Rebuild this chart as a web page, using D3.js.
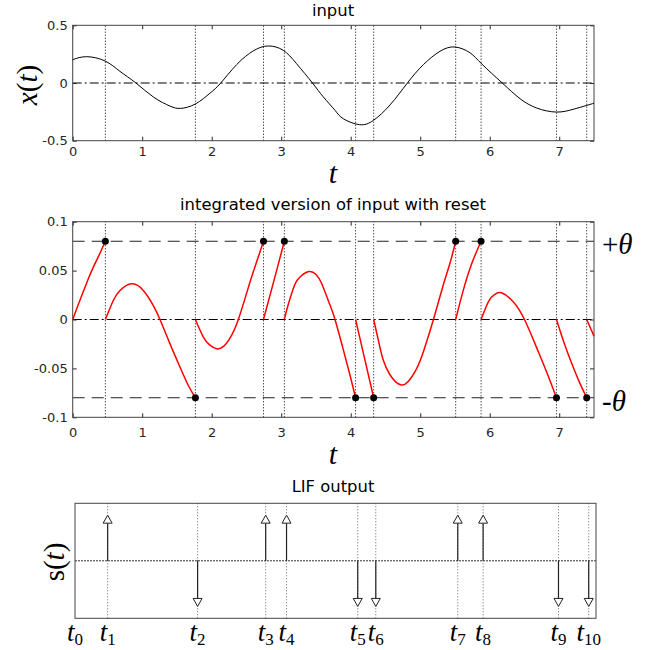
<!DOCTYPE html>
<html>
<head>
<meta charset="utf-8">
<script src="https://cdnjs.cloudflare.com/ajax/libs/d3/7.8.5/d3.min.js"></script>
<style>
    body { margin: 0; background: #fff; }
    .tick text { font-family: "DejaVu Sans", sans-serif; font-size: 13px; fill: #262626; }
    .tick line { stroke: #262626; }
    .ttl { font-family: "DejaVu Sans", sans-serif; font-size: 16.4px; fill: #000; }
    .math { font-family: "Liberation Serif", "Times New Roman", serif; font-style: italic; fill: #000; }
</style>
</head>
<body>
<div id="chart"></div>
<script>
// input signal x(t)
const inputT = [0, 0.2, 0.465, 0.68, 0.91, 1.16, 1.40, 1.553, 1.765, 1.976, 2.13, 2.36, 2.6, 2.815, 3.03, 3.22, 3.45, 3.606, 3.774, 3.894, 4.125, 4.326, 4.566, 4.815, 5.045, 5.285, 5.50, 5.716, 5.885, 6.18, 6.436, 6.676, 6.96, 7.20, 7.396, 7.5];
const inputV = [0.202, 0.228, 0.191, 0.101, 0, -0.121, -0.2, -0.22, -0.182, -0.088, 0, 0.16, 0.279, 0.321, 0.283, 0.168, 0, -0.121, -0.237, -0.31, -0.361, -0.324, -0.19, 0, 0.159, 0.275, 0.312, 0.262, 0.165, 0, -0.136, -0.217, -0.252, -0.228, -0.194, -0.175];

// spike (reset) times and their sign
const spikeT = [0.47, 1.765, 2.745, 3.045, 4.07, 4.33, 5.51, 5.875, 6.96, 7.395];
const spikeSign = [1, -1, 1, 1, -1, -1, 1, 1, -1, -1];
const theta = 0.08;

// integrated signal with reset, one array per segment between resets
const integT = [
    [0, 0.1, 0.225, 0.3, 0.4, 0.47],
    [0.47, 0.584, 0.68, 0.849, 1.016, 1.16, 1.256, 1.40, 1.544, 1.664, 1.765],
    [1.765, 1.88, 1.97, 2.07, 2.17, 2.263, 2.383, 2.55, 2.647, 2.745],
    [2.745, 2.9, 3.045],
    [3.045, 3.1, 3.175, 3.25, 3.4, 3.5, 3.58, 3.7, 3.774, 3.89, 3.99, 4.07],
    [4.07, 4.2, 4.33],
    [4.33, 4.4, 4.47, 4.56, 4.65, 4.73, 4.82, 4.95, 5.05, 5.19, 5.33, 5.43, 5.51],
    [5.51, 5.62, 5.74, 5.875],
    [5.875, 5.99, 6.08, 6.17, 6.34, 6.5, 6.676, 6.82, 6.96],
    [6.96, 7.07, 7.18, 7.29, 7.395],
    [7.395, 7.5]
];
const integV = [
    [0, 0.019, 0.0416, 0.054, 0.069, 0.08],
    [0, 0.0194, 0.0297, 0.0365, 0.0297, 0.0143, 0, -0.0249, -0.0487, -0.0675, -0.08],
    [0, -0.018, -0.026, -0.030, -0.0275, -0.019, 0, 0.038, 0.059, 0.08],
    [0, 0.041, 0.08],
    [0, 0.015, 0.032, 0.042, 0.049, 0.046, 0.037, 0.015, 0, -0.03, -0.057, -0.08],
    [0, -0.04, -0.08],
    [0, -0.022, -0.042, -0.056, -0.064, -0.067, -0.064, -0.05, -0.032, 0, 0.035, 0.058, 0.08],
    [0, 0.03, 0.057, 0.08],
    [0, 0.0194, 0.026, 0.0273, 0.018, 0, -0.029, -0.054, -0.08],
    [0, -0.024, -0.045, -0.064, -0.08],
    [0, -0.017]
];

const xTicks = [0, 1, 2, 3, 4, 5, 6, 7];
const topYTicks = [-0.5, 0, 0.5];
const midYTicks = [-0.1, -0.05, 0, 0.05, 0.1];
const spikeLabels = ["0", "1", "2", "3", "4", "5", "6", "7", "8", "9", "10"];

const svg = d3.select("#chart")
    .append("svg")
    .attr("width", 650)
    .attr("height", 650);

// ticks inside on all four sides, box drawn as a rect
function drawAxes(x, y, yTicks, pad) {
    const [x0, x1] = x.range();
    const [y0, y1] = y.range();
    const fmt = d => String(d);
    svg.append("g").attr("transform", `translate(0,${y0})`)
        .call(d3.axisBottom(x).tickValues(xTicks).tickSize(-4).tickPadding(pad).tickFormat(fmt));
    svg.append("g").attr("transform", `translate(0,${y1})`)
        .call(d3.axisTop(x).tickValues(xTicks).tickSize(-4).tickFormat(""));
    svg.append("g").attr("transform", `translate(${x0},0)`)
        .call(d3.axisLeft(y).tickValues(yTicks).tickSize(-4).tickPadding(5).tickFormat(fmt));
    svg.append("g").attr("transform", `translate(${x1},0)`)
        .call(d3.axisRight(y).tickValues(yTicks).tickSize(-4).tickFormat(""));
    svg.selectAll(".domain").remove();
    svg.append("rect")
        .attr("x", x0).attr("y", y1)
        .attr("width", x1 - x0).attr("height", y0 - y1)
        .attr("fill", "none").attr("stroke", "#444").attr("stroke-width", 1);
}

function hline(x, y, v, dash, color) {
    svg.append("line")
        .attr("x1", x.range()[0]).attr("x2", x.range()[1])
        .attr("y1", y(v)).attr("y2", y(v))
        .attr("stroke", color).attr("stroke-width", 1)
        .attr("stroke-dasharray", dash);
}

function spikeLines(x, y, color) {
    svg.append("g").selectAll("line")
        .data(spikeT)
        .enter().append("line")
        .attr("x1", d => x(d)).attr("x2", d => x(d))
        .attr("y1", y.range()[0]).attr("y2", y.range()[1])
        .attr("stroke", color).attr("stroke-width", 1)
        .attr("stroke-dasharray", "1,2");
}

function mathLabel(txt, x, y, italicFirst) {
    const t = svg.append("text")
        .attr("class", "math")
        .attr("font-size", "29px")
        .attr("text-anchor", "middle")
        .attr("transform", `translate(${x},${y}) rotate(-90)`);
    t.append("tspan").style("font-style", italicFirst ? "italic" : "normal").text(txt);
    t.append("tspan").style("font-style", "normal").text("(");
    t.append("tspan").text("t");
    t.append("tspan").style("font-style", "normal").text(")");
}

// ---------- top: input ----------
const xTop = d3.scaleLinear().domain([0, 7.5]).range([72.7, 594]);
const yTop = d3.scaleLinear().domain([-0.5, 0.5]).range([140.7, 25.3]);

spikeLines(xTop, yTop, "#000");
hline(xTop, yTop, 0, "9,3,2,3", "#000");
drawAxes(xTop, yTop, topYTicks, 6);

const inputData = inputT.map((t, i) => [t, inputV[i]]);
svg.append("path")
    .datum(inputData)
    .attr("fill", "none")
    .attr("stroke", "#000")
    .attr("stroke-width", 1)
    .attr("d", d3.line().x(d => xTop(d[0])).y(d => yTop(d[1])).curve(d3.curveNatural));

svg.append("text").attr("class", "ttl").attr("x", 333).attr("y", 16).attr("text-anchor", "middle").text("input");
svg.append("text").attr("class", "math").attr("font-size", "30px").attr("x", 333).attr("y", 183).attr("text-anchor", "middle").text("t");
mathLabel("x", 37, 85, true);

// ---------- middle: integrated version ----------
const xMid = d3.scaleLinear().domain([0, 7.5]).range([72.7, 594]);
const yMid = d3.scaleLinear().domain([-0.1, 0.1]).range([417.3, 221.7]);

spikeLines(xMid, yMid, "#000");
hline(xMid, yMid, 0, "9,3,2,3", "#000");
hline(xMid, yMid, theta, "12,7", "#222");
hline(xMid, yMid, -theta, "12,7", "#222");
drawAxes(xMid, yMid, midYTicks, 10);

const segLine = d3.line().x(d => xMid(d[0])).y(d => yMid(d[1])).curve(d3.curveNatural);
svg.append("g").selectAll("path")
    .data(integT.map((ts, k) => ts.map((t, i) => [t, integV[k][i]])))
    .enter().append("path")
    .attr("fill", "none")
    .attr("stroke", "#ff0000")
    .attr("stroke-width", 1.5)
    .attr("d", segLine);

svg.append("g").selectAll("circle")
    .data(spikeT)
    .enter().append("circle")
    .attr("cx", d => xMid(d))
    .attr("cy", (d, i) => yMid(spikeSign[i] * theta))
    .attr("r", 3.5)
    .attr("fill", "#000");

svg.append("text").attr("class", "ttl").attr("x", 333).attr("y", 210).attr("text-anchor", "middle").text("integrated version of input with reset");
svg.append("text").attr("class", "math").attr("font-size", "30px").attr("x", 333).attr("y", 464).attr("text-anchor", "middle").text("t");

[["+", theta, 254], ["-", -theta, 411]].forEach(([s, v, by]) => {
    const t = svg.append("text").attr("class", "math").attr("font-size", "29px").attr("x", 602).attr("y", by);
    t.append("tspan").style("font-style", "normal").text(s);
    t.append("tspan").text("\u03B8");
});

// ---------- bottom: LIF output ----------
const xBot = d3.scaleLinear().domain([0, 7.5]).range([75, 596]);
const yBot = d3.scaleLinear().domain([-1.26, 1.26]).range([618.3, 503.3]);

spikeLines(xBot, yBot, "#666");
hline(xBot, yBot, 0, "2,1", "#333");
svg.append("rect")
    .attr("x", 75).attr("y", 503.3)
    .attr("width", 521).attr("height", 115)
    .attr("fill", "none").attr("stroke", "#444").attr("stroke-width", 1);

const arrows = svg.append("g").selectAll("g")
    .data(spikeT.map((t, i) => ({ t: t, s: spikeSign[i] })))
    .enter().append("g");
arrows.append("line")
    .attr("x1", d => xBot(d.t)).attr("x2", d => xBot(d.t))
    .attr("y1", yBot(0))
    .attr("y2", d => yBot(d.s) + d.s * 8)
    .attr("stroke", "#222").attr("stroke-width", 1.2);
arrows.append("path")
    .attr("d", d => {
        const cx = xBot(d.t), tip = yBot(d.s), base = tip + d.s * 8;
        return `M${cx},${tip}L${cx - 4.5},${base}L${cx + 4.5},${base}Z`;
    })
    .attr("fill", "#fff").attr("stroke", "#222").attr("stroke-width", 1);

svg.append("text").attr("class", "ttl").attr("x", 333).attr("y", 492).attr("text-anchor", "middle").text("LIF output");
mathLabel("s", 64, 562, false);

const labT = [0].concat(spikeT);
const labs = svg.append("g").selectAll("text")
    .data(labT)
    .enter().append("text")
    .attr("class", "math")
    .attr("font-size", "27px")
    .attr("text-anchor", "middle")
    .attr("x", d => xBot(d))
    .attr("y", 641);
labs.append("tspan").text("t");
labs.append("tspan")
    .style("font-style", "normal")
    .attr("font-size", "17px")
    .attr("dy", 4)
    .text((d, i) => spikeLabels[i]);
</script>
</body>
</html>
